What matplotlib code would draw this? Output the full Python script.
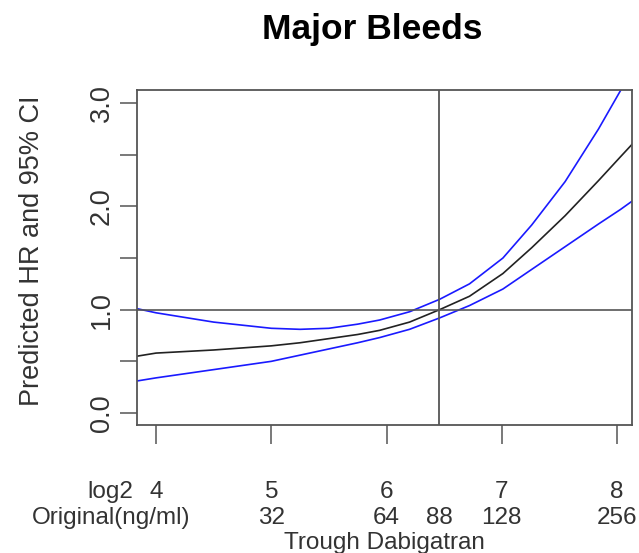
import numpy as np
import matplotlib
matplotlib.use("Agg")
import matplotlib.pyplot as plt

plt.rcParams['font.family'] = ['Liberation Sans', 'DejaVu Sans']

# values (log2 trough concentration vs hazard ratio)
conc_log2 = [3.835, 4.0, 4.5, 5.0, 5.25, 5.5, 5.75, 5.94, 6.2, 6.46,
             6.72, 7.01, 7.26, 7.55, 7.84, 8.03, 8.13]
hr_fit = [0.55, 0.58, 0.61, 0.65, 0.68, 0.72, 0.76, 0.80, 0.88, 1.00,
          1.13, 1.35, 1.60, 1.91, 2.25, 2.48, 2.60]
hr_upper = [1.01, 0.97, 0.88, 0.82, 0.81, 0.82, 0.86, 0.90, 0.98, 1.10,
            1.25, 1.50, 1.82, 2.24, 2.75, 3.12, 3.33]
hr_lower = [0.31, 0.34, 0.42, 0.50, 0.56, 0.62, 0.68, 0.73, 0.81, 0.92,
            1.04, 1.20, 1.39, 1.61, 1.83, 1.97, 2.05]

log2_ticks = [4, 5, 6, 7, 8]
orig_ticks = [5, 6, np.log2(88), 7, 8]
orig_labels = ['32', '64', '88', '128', '256']
y_ticks = [0, 0.5, 1.0, 1.5, 2.0, 2.5, 3.0]
y_labels = ['0.0', '', '1.0', '', '2.0', '', '3.0']
ref_conc = np.log2(88)

gray = '#555555'
txt = '#333333'
fs = 17.5
fs_y = 19.5

fig = plt.figure(figsize=(6.39, 5.53), dpi=100)
ax = fig.add_axes([0.2144, 0.2315, 0.7746, 0.6058])

ax.plot(conc_log2, hr_upper, color='#1a1aff', lw=1.2)
ax.plot(conc_log2, hr_lower, color='#1a1aff', lw=1.2)
ax.plot(conc_log2, hr_fit, color='#222222', lw=1.2)
ax.axhline(1.0, color=gray, lw=1.2)
ax.axvline(ref_conc, color=gray, lw=1.3)

ax.set_xlim(3.835, 8.13)
ax.set_ylim(-0.116, 3.127)

for s in ax.spines.values():
    s.set_color(gray)
    s.set_linewidth(1.3)

ax.set_yticks(y_ticks)
ax.set_yticklabels(y_labels, rotation=90, va='center', fontsize=fs_y, color=txt)
ax.tick_params(axis='y', length=12, width=1.1, color=gray, pad=4)

ax.set_xticks(log2_ticks)
ax.set_xticklabels([])
ax.tick_params(axis='x', length=14, width=1.1, color=gray)

# two rows of x labels: log2 scale and original ng/ml
tr = ax.get_xaxis_transform()
row1, row2 = -0.2, -0.278
for t in log2_ticks:
    ax.text(t, row1, str(t), transform=tr, ha='center', va='center',
            fontsize=fs, color=txt)
ax.text(3.80, row1, 'log2', transform=tr, ha='right', va='center',
        fontsize=fs, color=txt)
for t, lab in zip(orig_ticks, orig_labels):
    ax.text(t, row2, lab, transform=tr, ha='center', va='center',
            fontsize=fs, color=txt)
ax.text(4.295, row2, 'Original(ng/ml)', transform=tr, ha='right', va='center',
        fontsize=fs, color=txt)

ax.text(0.5, -0.352, 'Trough Dabigatran', transform=ax.transAxes, ha='center',
        va='center', fontsize=fs, color=txt)
ax.set_ylabel('Predicted HR and 95% CI', fontsize=fs_y, color=txt)
ax.yaxis.set_label_coords(-0.185, 0.52)
fig.text(372 / 639, 1 - 30 / 553, 'Major Bleeds', fontsize=25.5, fontweight='bold',
         ha='center', va='center')

fig.savefig('out.png', dpi=100)
